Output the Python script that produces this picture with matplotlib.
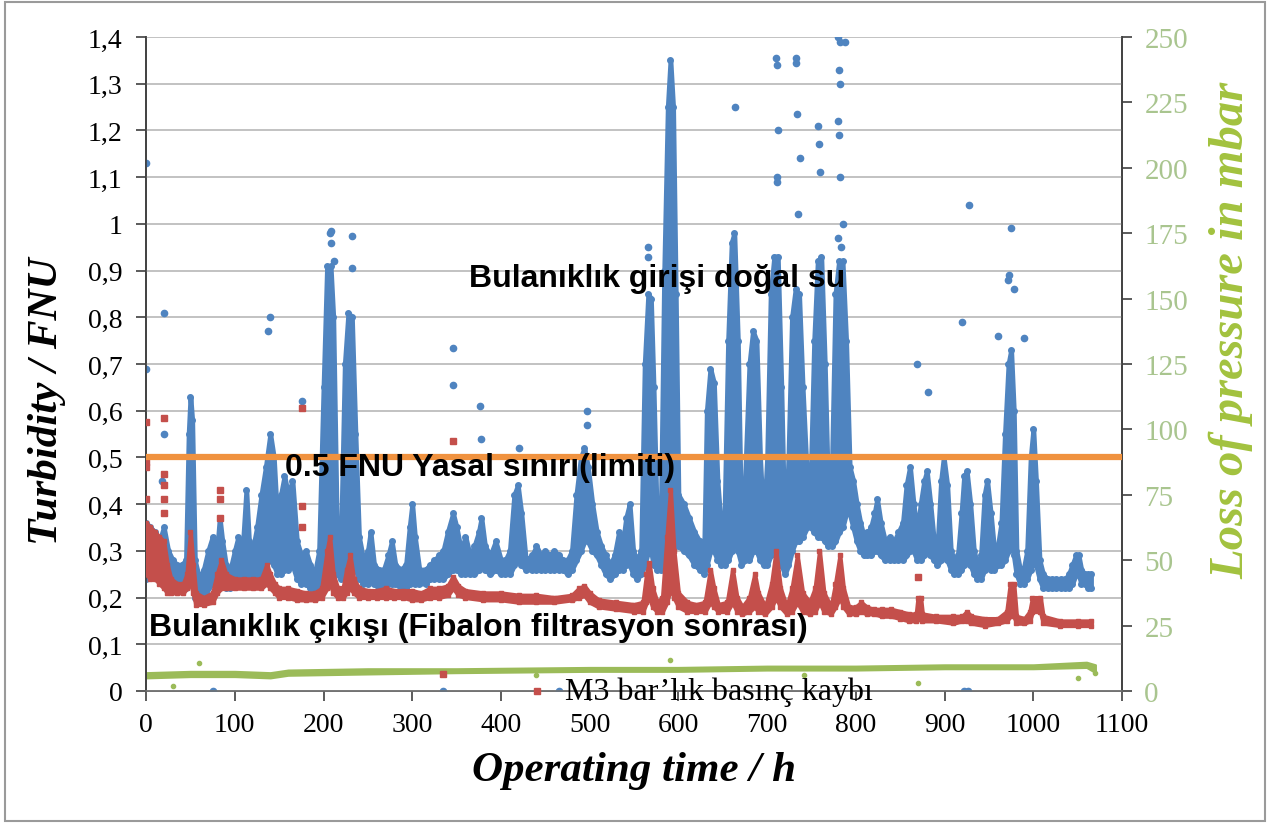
import numpy as np
import matplotlib
matplotlib.use("Agg")
import matplotlib.pyplot as plt
from matplotlib.ticker import FuncFormatter, MultipleLocator
from matplotlib.patches import Rectangle

# inlet turbidity (blue) - lower / upper edge of the dot cloud, FNU
blue_t = [0, 5, 10, 15, 20, 25, 30, 35, 40, 45, 48, 50, 52, 55, 60, 65, 70, 75, 80, 83,
          86, 90, 95, 100, 104, 108, 113, 116, 120, 125, 130, 135, 140, 144, 148, 152, 156, 160, 165, 170,
          175, 180, 185, 190, 195, 200, 204, 208, 211, 215, 220, 224, 228, 232, 236, 240, 245, 250, 253, 257,
          262, 268, 273, 277, 281, 287, 293, 297, 300, 303, 308, 315, 320, 325, 330, 335, 340, 346, 350, 355,
          360, 365, 370, 375, 378, 382, 388, 394, 400, 405, 410, 415, 419, 423, 428, 435, 440, 445, 450, 455,
          460, 465, 470, 475, 480, 485, 490, 494, 498, 503, 508, 513, 518, 523, 528, 533, 537, 541, 545, 549,
          553, 558, 562, 566, 569, 572, 576, 580, 584, 588, 591, 594, 597, 600, 606, 612, 618, 624, 629, 632,
          636, 640, 644, 648, 652, 656, 660, 663, 667, 671, 675, 680, 684, 688, 692, 696, 700, 704, 708, 712,
          716, 720, 724, 728, 732, 736, 740, 745, 749, 753, 757, 761, 765, 769, 773, 777, 781, 785, 789, 793,
          797, 801, 805, 809, 813, 817, 821, 824, 828, 833, 838, 843, 848, 853, 857, 861, 865, 869, 873, 877,
          880, 884, 888, 892, 896, 899, 903, 907, 911, 915, 919, 922, 925, 929, 933, 937, 941, 945, 948, 952,
          956, 960, 964, 968, 972, 975, 978, 981, 985, 989, 993, 997, 1000, 1003, 1007, 1011, 1016, 1021, 1026, 1031,
          1036, 1040, 1044, 1048, 1051, 1054, 1058, 1062, 1065]
blue_lo = [0.24, 0.25, 0.25, 0.25, 0.24, 0.22, 0.23, 0.23, 0.23, 0.22, 0.24, 0.25, 0.23, 0.20, 0.19, 0.19, 0.22, 0.23, 0.23, 0.23,
           0.23, 0.22, 0.22, 0.23, 0.24, 0.23, 0.24, 0.24, 0.23, 0.24, 0.25, 0.27, 0.28, 0.27, 0.25, 0.25, 0.26, 0.26, 0.27, 0.24,
           0.23, 0.23, 0.22, 0.21, 0.22, 0.25, 0.30, 0.30, 0.27, 0.25, 0.24, 0.26, 0.28, 0.28, 0.26, 0.24, 0.23, 0.23, 0.24, 0.23,
           0.22, 0.22, 0.23, 0.23, 0.23, 0.22, 0.22, 0.23, 0.24, 0.23, 0.23, 0.23, 0.24, 0.24, 0.24, 0.24, 0.25, 0.26, 0.26, 0.25,
           0.25, 0.25, 0.25, 0.26, 0.27, 0.26, 0.25, 0.26, 0.25, 0.25, 0.25, 0.27, 0.28, 0.27, 0.26, 0.26, 0.26, 0.26, 0.26, 0.26,
           0.26, 0.26, 0.26, 0.25, 0.26, 0.28, 0.30, 0.32, 0.32, 0.30, 0.29, 0.27, 0.25, 0.24, 0.25, 0.26, 0.26, 0.27, 0.27, 0.25,
           0.24, 0.25, 0.27, 0.30, 0.30, 0.27, 0.26, 0.26, 0.28, 0.30, 0.32, 0.33, 0.32, 0.31, 0.30, 0.29, 0.27, 0.26, 0.25, 0.27,
           0.30, 0.30, 0.28, 0.27, 0.27, 0.28, 0.30, 0.32, 0.30, 0.27, 0.28, 0.28, 0.30, 0.30, 0.28, 0.27, 0.27, 0.29, 0.30, 0.30,
           0.27, 0.25, 0.27, 0.30, 0.32, 0.32, 0.33, 0.35, 0.35, 0.34, 0.33, 0.33, 0.32, 0.31, 0.31, 0.32, 0.34, 0.35, 0.38, 0.38,
           0.35, 0.32, 0.30, 0.29, 0.29, 0.29, 0.30, 0.30, 0.29, 0.28, 0.28, 0.28, 0.28, 0.28, 0.29, 0.30, 0.30, 0.28, 0.28, 0.29,
           0.30, 0.29, 0.28, 0.27, 0.28, 0.30, 0.28, 0.26, 0.25, 0.25, 0.26, 0.27, 0.28, 0.27, 0.25, 0.24, 0.24, 0.26, 0.27, 0.26,
           0.26, 0.27, 0.27, 0.28, 0.30, 0.32, 0.29, 0.25, 0.23, 0.23, 0.24, 0.26, 0.28, 0.27, 0.24, 0.22, 0.22, 0.22, 0.22, 0.22,
           0.22, 0.22, 0.23, 0.25, 0.25, 0.23, 0.23, 0.22, 0.22]
blue_hi = [0.36, 0.35, 0.34, 0.32, 0.35, 0.30, 0.28, 0.27, 0.27, 0.28, 0.55, 0.63, 0.58, 0.28, 0.24, 0.26, 0.30, 0.33, 0.30, 0.37,
           0.32, 0.27, 0.26, 0.30, 0.33, 0.28, 0.43, 0.32, 0.30, 0.35, 0.42, 0.48, 0.55, 0.50, 0.36, 0.42, 0.46, 0.42, 0.45, 0.32,
           0.29, 0.30, 0.27, 0.25, 0.30, 0.65, 0.91, 0.91, 0.80, 0.35, 0.35, 0.70, 0.81, 0.80, 0.55, 0.33, 0.28, 0.30, 0.34, 0.27,
           0.26, 0.26, 0.29, 0.32, 0.27, 0.26, 0.27, 0.35, 0.40, 0.33, 0.26, 0.26, 0.27, 0.28, 0.29, 0.30, 0.34, 0.38, 0.35, 0.30,
           0.33, 0.29, 0.31, 0.34, 0.37, 0.31, 0.29, 0.32, 0.28, 0.28, 0.30, 0.42, 0.44, 0.38, 0.28, 0.29, 0.31, 0.29, 0.30, 0.29,
           0.30, 0.29, 0.28, 0.28, 0.30, 0.42, 0.50, 0.52, 0.48, 0.40, 0.34, 0.31, 0.29, 0.27, 0.29, 0.34, 0.31, 0.37, 0.40, 0.30,
           0.28, 0.30, 0.70, 0.85, 0.84, 0.65, 0.34, 0.35, 0.90, 1.25, 1.35, 1.25, 0.85, 0.42, 0.40, 0.37, 0.34, 0.32, 0.30, 0.60,
           0.69, 0.66, 0.45, 0.35, 0.38, 0.75, 0.96, 0.98, 0.75, 0.32, 0.45, 0.70, 0.77, 0.75, 0.50, 0.35, 0.50, 0.85, 0.93, 0.93,
           0.65, 0.30, 0.50, 0.80, 0.86, 0.85, 0.65, 0.45, 0.45, 0.75, 0.92, 0.93, 0.70, 0.40, 0.48, 0.85, 0.92, 0.92, 0.75, 0.48,
           0.45, 0.40, 0.36, 0.33, 0.34, 0.35, 0.38, 0.41, 0.36, 0.32, 0.33, 0.32, 0.34, 0.36, 0.44, 0.48, 0.40, 0.34, 0.40, 0.45,
           0.47, 0.40, 0.32, 0.31, 0.45, 0.50, 0.44, 0.30, 0.28, 0.29, 0.38, 0.46, 0.47, 0.40, 0.30, 0.27, 0.29, 0.42, 0.45, 0.38,
           0.30, 0.31, 0.36, 0.55, 0.70, 0.73, 0.60, 0.30, 0.26, 0.26, 0.30, 0.50, 0.56, 0.45, 0.28, 0.25, 0.24, 0.24, 0.24, 0.24,
           0.24, 0.25, 0.27, 0.29, 0.29, 0.26, 0.25, 0.25, 0.25]
# isolated blue points
blue_out_t = [0, 0, 20, 20, 18, 140, 138, 207, 208, 209, 212, 232, 232, 346, 346, 376, 377, 176, 420, 497,
              497, 566, 566, 664, 710, 711, 712, 711, 711, 733, 733, 734, 737, 735, 757, 758, 760, 780, 782, 788,
              781, 782, 780, 781, 782, 786, 780, 783, 920, 928, 960, 975, 973, 972, 978, 990, 881, 869, 75, 335,
              465, 922, 926]
blue_out_v = [1.13, 0.69, 0.81, 0.55, 0.45, 0.80, 0.77, 0.98, 0.985, 0.96, 0.92, 0.975, 0.905, 0.735, 0.655, 0.61, 0.54, 0.62, 0.52, 0.57,
              0.60, 0.95, 0.93, 1.25, 1.355, 1.34, 1.20, 1.10, 1.09, 1.355, 1.345, 1.235, 1.14, 1.02, 1.21, 1.17, 1.11, 1.40, 1.39, 1.39,
              1.33, 1.30, 1.22, 1.19, 1.10, 1.00, 0.97, 0.95, 0.79, 1.04, 0.76, 0.99, 0.89, 0.88, 0.86, 0.755, 0.64, 0.70, 0.0, 0.0,
              0.0, 0.0, 0.0]

# outlet turbidity (red), FNU
red_t = [0, 5, 10, 15, 20, 24, 28, 35, 42, 46, 50, 53, 56, 65, 75, 80, 85, 90, 100, 110,
         120, 130, 136, 140, 145, 150, 160, 170, 180, 190, 198, 204, 207, 211, 216, 222, 226, 230, 234, 240,
         250, 260, 270, 280, 290, 300, 310, 320, 330, 340, 346, 352, 360, 380, 400, 420, 440, 460, 480, 488,
         494, 500, 510, 530, 550, 560, 564, 567, 571, 576, 582, 587, 591, 595, 600, 610, 620, 630, 636, 640,
         645, 655, 661, 666, 672, 680, 686, 690, 698, 705, 710, 715, 722, 728, 734, 740, 748, 754, 759, 764,
         772, 777, 782, 786, 792, 800, 806, 812, 820, 830, 840, 850, 860, 868, 870, 873, 875, 890, 910, 920,
         925, 930, 945, 960, 970, 974, 978, 981, 990, 996, 999, 1008, 1011, 1030, 1050, 1065]
red_lo = [0.25, 0.24, 0.24, 0.23, 0.22, 0.21, 0.21, 0.21, 0.21, 0.22, 0.23, 0.21, 0.185, 0.185, 0.19, 0.21, 0.22, 0.22, 0.22, 0.22,
          0.22, 0.22, 0.23, 0.22, 0.21, 0.20, 0.20, 0.195, 0.195, 0.195, 0.20, 0.22, 0.23, 0.21, 0.20, 0.20, 0.21, 0.22, 0.21, 0.20,
          0.20, 0.20, 0.20, 0.20, 0.20, 0.195, 0.195, 0.20, 0.20, 0.205, 0.22, 0.205, 0.20, 0.195, 0.195, 0.19, 0.19, 0.19, 0.195, 0.20,
          0.205, 0.19, 0.18, 0.175, 0.17, 0.17, 0.19, 0.20, 0.18, 0.17, 0.17, 0.19, 0.22, 0.20, 0.18, 0.17, 0.17, 0.17, 0.19, 0.18,
          0.17, 0.17, 0.19, 0.17, 0.165, 0.17, 0.18, 0.17, 0.165, 0.18, 0.20, 0.18, 0.165, 0.17, 0.19, 0.17, 0.165, 0.17, 0.19, 0.17,
          0.165, 0.18, 0.20, 0.18, 0.165, 0.165, 0.17, 0.165, 0.165, 0.16, 0.16, 0.155, 0.15, 0.15, 0.155, 0.155, 0.15, 0.15, 0.145, 0.15,
          0.15, 0.145, 0.14, 0.145, 0.15, 0.16, 0.16, 0.145, 0.145, 0.15, 0.17, 0.17, 0.145, 0.14, 0.14, 0.14]
red_hi = [0.36, 0.35, 0.34, 0.33, 0.32, 0.27, 0.24, 0.23, 0.23, 0.25, 0.34, 0.27, 0.21, 0.20, 0.21, 0.25, 0.28, 0.25, 0.24, 0.24,
          0.24, 0.24, 0.27, 0.25, 0.23, 0.22, 0.22, 0.215, 0.21, 0.21, 0.22, 0.30, 0.33, 0.25, 0.22, 0.22, 0.26, 0.29, 0.24, 0.22,
          0.215, 0.215, 0.22, 0.215, 0.215, 0.215, 0.21, 0.22, 0.22, 0.225, 0.245, 0.225, 0.215, 0.21, 0.21, 0.205, 0.205, 0.20, 0.205, 0.22,
          0.225, 0.21, 0.195, 0.19, 0.185, 0.19, 0.25, 0.275, 0.22, 0.19, 0.20, 0.33, 0.43, 0.30, 0.21, 0.19, 0.185, 0.19, 0.26, 0.22,
          0.185, 0.19, 0.26, 0.20, 0.18, 0.20, 0.25, 0.21, 0.18, 0.23, 0.30, 0.22, 0.18, 0.22, 0.29, 0.21, 0.19, 0.22, 0.30, 0.21,
          0.18, 0.23, 0.29, 0.22, 0.18, 0.18, 0.19, 0.18, 0.175, 0.175, 0.175, 0.17, 0.165, 0.165, 0.20, 0.20, 0.165, 0.16, 0.16, 0.16,
          0.17, 0.16, 0.155, 0.155, 0.17, 0.23, 0.23, 0.16, 0.155, 0.17, 0.20, 0.20, 0.16, 0.15, 0.15, 0.15]
red_out_t = [0, 0, 0, 0, 20, 20, 20, 20, 20, 83, 83, 83, 176, 176, 176, 346, 870, 335]
red_out_v = [0.575, 0.49, 0.48, 0.41, 0.585, 0.465, 0.44, 0.41, 0.38, 0.43, 0.41, 0.37, 0.605, 0.395, 0.35, 0.535, 0.245, 0.036]

# pressure loss (green), mbar
green_t = [0, 50, 100, 140, 160, 250, 350, 500, 600, 700, 800, 900, 1000, 1060, 1070]
green_lo = [5.0, 5.5, 5.5, 5.0, 6.0, 6.5, 7.0, 7.5, 7.5, 8.0, 8.0, 8.5, 8.5, 9.0, 7.0]
green_hi = [7.0, 7.5, 7.5, 7.0, 8.0, 8.5, 8.5, 9.0, 9.0, 9.5, 9.5, 10.0, 10.0, 11.0, 10.0]
green_out_t = [60, 30, 870, 1050, 1070, 440, 590, 742]
green_out_v = [10.5, 2.0, 3.0, 5.0, 7.0, 6.0, 12.0, 6.0]

limit = 0.5

c_blue = "#4f84c0"
c_red = "#c44f4b"
c_green = "#9bbb59"

fig = plt.figure(figsize=(12.7, 8.29), dpi=100)
fig.patches.append(Rectangle((0.004, 0.008), 0.992, 0.988, transform=fig.transFigure,
                             fill=False, edgecolor="#9a9a9a", lw=1.5))
ax = fig.add_axes([0.115, 0.1653, 0.7685, 0.7889])
ax2 = ax.twinx()
ax.set_zorder(ax2.get_zorder() + 1)
ax.patch.set_visible(False)

# blue cloud
ax.fill_between(blue_t, blue_lo, blue_hi, color=c_blue, lw=3.5, edgecolor=c_blue, zorder=2)
ax.plot(blue_t, blue_hi, "o", color=c_blue, ms=4, zorder=2)
ax.plot(blue_t, blue_lo, "o", color=c_blue, ms=4, zorder=2)
ax.plot(blue_out_t, blue_out_v, "o", color=c_blue, ms=4.5, ls="none", zorder=2)

# red cloud
ax.fill_between(red_t, red_lo, red_hi, color=c_red, lw=3, edgecolor=c_red, zorder=3)
ax.plot(red_t, red_hi, "s", color=c_red, ms=3.5, zorder=3)
ax.plot(red_t, red_lo, "s", color=c_red, ms=3.5, zorder=3)
ax.plot(red_out_t, red_out_v, "s", color=c_red, ms=5, ls="none", zorder=3)

# green on right axis
ax2.fill_between(green_t, green_lo, green_hi, color=c_green, lw=1.5, edgecolor=c_green)
ax2.plot(green_out_t, green_out_v, "o", color=c_green, ms=3, ls="none")

# legal limit
ax.axhline(limit, color="#f0923f", lw=4.5, zorder=4)

ax.set_xlim(0, 1100)
ax.set_ylim(0, 1.4)
ax2.set_ylim(0, 250)
ax.xaxis.set_major_locator(MultipleLocator(100))
ax.yaxis.set_major_locator(MultipleLocator(0.1))
ax2.yaxis.set_major_locator(MultipleLocator(25))


def comma(v, pos):
    s = ("%.1f" % v).rstrip("0").rstrip(".")
    return s.replace(".", ",")


ax.yaxis.set_major_formatter(FuncFormatter(comma))
ax.grid(axis="y", color="#bdbdbd", lw=1.3, zorder=0)
ax.set_axisbelow(True)

for a in (ax, ax2):
    a.spines["top"].set_visible(False)
    a.spines["left"].set_color("#404040")
    a.spines["right"].set_color("#404040")
    a.spines["bottom"].set_color("#707070")
    a.spines["left"].set_linewidth(1.2)
    a.spines["right"].set_linewidth(1.2)
    a.spines["bottom"].set_linewidth(1.2)

serif = "Liberation Serif"
ax.tick_params(axis="both", direction="out", length=7, width=1.2, color="#404040", labelsize=20)
ax.tick_params(axis="y", pad=10)
ax.tick_params(axis="x", pad=8)
ax2.tick_params(axis="y", direction="out", length=7, width=1.2, color="#404040", labelsize=21,
                labelcolor="#a9c58f", pad=9)
for lab in ax.get_xticklabels() + ax.get_yticklabels() + ax2.get_yticklabels():
    lab.set_fontfamily(serif)

ax.set_xlabel("Operating time / h", fontsize=31, fontfamily=serif, fontweight="bold",
              fontstyle="italic", labelpad=10)
ax.set_ylabel("Turbidity / FNU", fontsize=31, fontfamily=serif, fontweight="bold",
              fontstyle="italic", va="center", ha="center")
ax.yaxis.set_label_coords(-0.101, 0.445)
ax2.set_ylabel("Loss of pressure in mbar", fontsize=35, fontfamily=serif, fontweight="bold",
               fontstyle="italic", color="#a2c23e", va="center", ha="center")
ax2.yaxis.set_label_coords(1.112, 0.553)

sans = "Liberation Sans"
ax.text(0.5236, 0.632, "Bulanıklık girişi doğal su", transform=ax.transAxes, fontsize=23,
        fontfamily=sans, fontweight="bold", ha="center", va="center", zorder=6)
ax.text(0.342, 0.3425, "0.5 FNU Yasal sınırı(limiti)", transform=ax.transAxes, fontsize=23,
        fontfamily=sans, fontweight="bold", ha="center", va="center", zorder=6)
ax.text(0.341, 0.098, "Bulanıklık çıkışı (Fibalon filtrasyon sonrası)", transform=ax.transAxes,
        fontsize=23, fontfamily=sans, fontweight="bold", ha="center", va="center", zorder=6)
ax.plot([441], [0.0], "s", color=c_red, ms=5, clip_on=False, zorder=6)
ax.text(0.429, 0.0, "M3 bar’lık basınç kaybı", transform=ax.transAxes, fontsize=23,
        fontfamily=serif, ha="left", va="center", zorder=6)

fig.savefig("out.png", dpi=100)
